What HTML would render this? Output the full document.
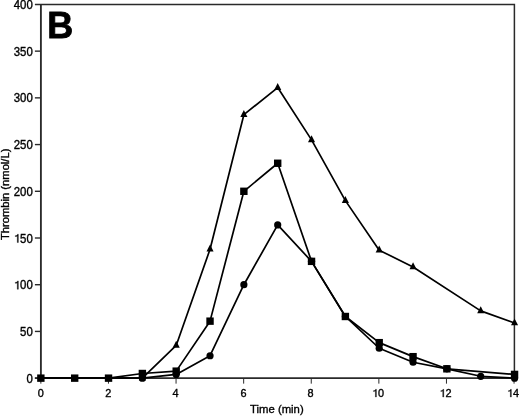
<!DOCTYPE html><html><head><meta charset="utf-8"><style>html,body{margin:0;padding:0;background:#fff;}svg{display:block;filter:grayscale(1);}text{font-family:"Liberation Sans",sans-serif;fill:#000;}.t text,text.t{stroke:#000;stroke-width:0.35px;}.g1{fill:#000;stroke:#000;stroke-width:62.9;}</style></head><body>
<svg width="520" height="416" viewBox="0 0 520 416">
<g stroke="#2a2a2a" stroke-width="1.7" fill="none">
<path d="M40.90,378.15 V4.43" stroke-width="1.85"/>
<path d="M34.90,4.43 H514.40 V378.15" stroke-width="1.5" stroke-linejoin="miter"/>
<path d="M34.90,378.15 H514.40"/>
<path d="M34.90,378.15 H40.90" stroke-width="1.4"/>
<path d="M34.90,331.43 H40.90" stroke-width="1.4"/>
<path d="M34.90,284.72 H40.90" stroke-width="1.4"/>
<path d="M34.90,238.00 H40.90" stroke-width="1.4"/>
<path d="M34.90,191.29 H40.90" stroke-width="1.4"/>
<path d="M34.90,144.57 H40.90" stroke-width="1.4"/>
<path d="M34.90,97.86 H40.90" stroke-width="1.4"/>
<path d="M34.90,51.14 H40.90" stroke-width="1.4"/>
<path d="M40.86,378.15 V383.65" stroke-width="1"/>
<path d="M108.46,378.15 V383.65" stroke-width="1"/>
<path d="M176.06,378.15 V383.65" stroke-width="1"/>
<path d="M243.66,378.15 V383.65" stroke-width="1"/>
<path d="M311.26,378.15 V383.65" stroke-width="1"/>
<path d="M378.86,378.15 V383.65" stroke-width="1"/>
<path d="M446.46,378.15 V383.65" stroke-width="1"/>
<path d="M514.06,378.15 V383.65" stroke-width="1"/>
</g>
<g class="t" font-size="11.4">
<g transform="translate(0,382.70) scale(1,1.04) translate(0,-382.70)">
<text x="26.41" y="382.70" font-size="11.4">0</text>
</g>
<g transform="translate(0,335.98) scale(1,1.04) translate(0,-335.98)">
<text x="20.07" y="335.98" font-size="11.4">5</text>
<text x="26.41" y="335.98" font-size="11.4">0</text>
</g>
<g transform="translate(0,289.27) scale(1,1.04) translate(0,-289.27)">
<path class="g1" transform="translate(13.73,289.27) scale(0.005566,-0.005566)" d="M643,0 L827,0 L827,1440 L676,1440 L649,1341 L594,1266 L492,1212 L274,1188 L274,1044 L471,1061 L573,1096 L643,1151 Z"/>
<text x="20.07" y="289.27" font-size="11.4">0</text>
<text x="26.41" y="289.27" font-size="11.4">0</text>
</g>
<g transform="translate(0,242.55) scale(1,1.04) translate(0,-242.55)">
<path class="g1" transform="translate(13.73,242.55) scale(0.005566,-0.005566)" d="M643,0 L827,0 L827,1440 L676,1440 L649,1341 L594,1266 L492,1212 L274,1188 L274,1044 L471,1061 L573,1096 L643,1151 Z"/>
<text x="20.07" y="242.55" font-size="11.4">5</text>
<text x="26.41" y="242.55" font-size="11.4">0</text>
</g>
<g transform="translate(0,195.84) scale(1,1.04) translate(0,-195.84)">
<text x="13.73" y="195.84" font-size="11.4">2</text>
<text x="20.07" y="195.84" font-size="11.4">0</text>
<text x="26.41" y="195.84" font-size="11.4">0</text>
</g>
<g transform="translate(0,149.12) scale(1,1.04) translate(0,-149.12)">
<text x="13.73" y="149.12" font-size="11.4">2</text>
<text x="20.07" y="149.12" font-size="11.4">5</text>
<text x="26.41" y="149.12" font-size="11.4">0</text>
</g>
<g transform="translate(0,102.41) scale(1,1.04) translate(0,-102.41)">
<text x="13.73" y="102.41" font-size="11.4">3</text>
<text x="20.07" y="102.41" font-size="11.4">0</text>
<text x="26.41" y="102.41" font-size="11.4">0</text>
</g>
<g transform="translate(0,55.69) scale(1,1.04) translate(0,-55.69)">
<text x="13.73" y="55.69" font-size="11.4">3</text>
<text x="20.07" y="55.69" font-size="11.4">5</text>
<text x="26.41" y="55.69" font-size="11.4">0</text>
</g>
<g transform="translate(0,8.98) scale(1,1.04) translate(0,-8.98)">
<text x="13.73" y="8.98" font-size="11.4">4</text>
<text x="20.07" y="8.98" font-size="11.4">0</text>
<text x="26.41" y="8.98" font-size="11.4">0</text>
</g>
<text x="37.77" y="397.00" font-size="10.9">0</text>
<text x="105.27" y="397.00" font-size="10.9">2</text>
<text x="172.52" y="397.00" font-size="10.9">4</text>
<text x="240.57" y="397.00" font-size="10.9">6</text>
<text x="307.47" y="397.00" font-size="10.9">8</text>
<path class="g1" transform="translate(371.99,397.00) scale(0.005322,-0.005322)" d="M643,0 L827,0 L827,1440 L676,1440 L649,1341 L594,1266 L492,1212 L274,1188 L274,1044 L471,1061 L573,1096 L643,1151 Z"/>
<text x="378.05" y="397.00" font-size="10.9">0</text>
<path class="g1" transform="translate(439.34,397.00) scale(0.005322,-0.005322)" d="M643,0 L827,0 L827,1440 L676,1440 L649,1341 L594,1266 L492,1212 L274,1188 L274,1044 L471,1061 L573,1096 L643,1151 Z"/>
<text x="445.40" y="397.00" font-size="10.9">2</text>
<path class="g1" transform="translate(506.94,397.00) scale(0.005322,-0.005322)" d="M643,0 L827,0 L827,1440 L676,1440 L649,1341 L594,1266 L492,1212 L274,1188 L274,1044 L471,1061 L573,1096 L643,1151 Z"/>
<text x="513.00" y="397.00" font-size="10.9">4</text>
</g>
<text class="t" x="276.9" y="413.2" font-size="11.3" text-anchor="middle">Time (min)</text>
<text class="t" transform="translate(9.1,194.3) rotate(-90)" font-size="11.2" text-anchor="middle">Thrombin (nmol/L)</text>
<text x="47.2" y="37.6" font-size="36" font-weight="bold" stroke="#000" stroke-width="0.8">B</text>
<g stroke="#000" stroke-width="1.7" fill="none" stroke-linejoin="round">
<polyline points="40.86,378.15 74.69,378.15 108.53,378.15 142.37,378.15 176.20,374.41 210.04,355.73 243.87,284.72 277.70,224.92 311.54,261.36 345.38,316.49 379.21,348.25 413.05,362.27 446.88,368.81 480.72,376.28 514.55,378.15"/>
<polyline points="40.86,378.15 74.69,378.15 108.53,378.15 142.37,373.48 176.20,371.14 210.04,321.16 243.87,191.29 277.70,163.26 311.54,261.36 345.38,316.49 379.21,342.65 413.05,356.66 446.88,368.81 514.55,374.41"/>
<polyline points="40.86,378.15 74.69,378.15 108.53,378.15 142.37,378.15 176.20,345.45 210.04,249.22 243.87,114.68 277.70,87.58 311.54,139.90 345.38,200.63 379.21,250.15 413.05,266.97 480.72,310.88 514.55,323.03"/>
</g>
<g fill="#000">
<circle cx="142.37" cy="378.15" r="3.6"/>
<circle cx="176.20" cy="374.41" r="3.6"/>
<circle cx="210.04" cy="355.73" r="3.6"/>
<circle cx="243.87" cy="284.72" r="3.6"/>
<circle cx="277.70" cy="224.92" r="3.6"/>
<circle cx="311.54" cy="261.36" r="3.6"/>
<circle cx="345.38" cy="316.49" r="3.6"/>
<circle cx="379.21" cy="348.25" r="3.6"/>
<circle cx="413.05" cy="362.27" r="3.6"/>
<circle cx="446.88" cy="368.81" r="3.6"/>
<circle cx="480.72" cy="376.28" r="3.6"/>
<circle cx="514.55" cy="378.15" r="3.6"/>
<rect x="37.16" y="374.45" width="7.4" height="7.4"/>
<rect x="70.99" y="374.45" width="7.4" height="7.4"/>
<rect x="104.83" y="374.45" width="7.4" height="7.4"/>
<rect x="138.67" y="369.78" width="7.4" height="7.4"/>
<rect x="172.50" y="367.44" width="7.4" height="7.4"/>
<rect x="206.34" y="317.46" width="7.4" height="7.4"/>
<rect x="240.17" y="187.59" width="7.4" height="7.4"/>
<rect x="274.00" y="159.56" width="7.4" height="7.4"/>
<rect x="307.84" y="257.66" width="7.4" height="7.4"/>
<rect x="341.68" y="312.79" width="7.4" height="7.4"/>
<rect x="375.51" y="338.95" width="7.4" height="7.4"/>
<rect x="409.35" y="352.96" width="7.4" height="7.4"/>
<rect x="443.18" y="365.11" width="7.4" height="7.4"/>
<rect x="510.85" y="370.71" width="7.4" height="7.4"/>
<path d="M142.37,373.55 L145.92,380.45 L138.81,380.45Z"/>
<path d="M176.20,340.85 L179.75,347.75 L172.65,347.75Z"/>
<path d="M210.04,244.62 L213.59,251.52 L206.49,251.52Z"/>
<path d="M243.87,110.08 L247.42,116.98 L240.32,116.98Z"/>
<path d="M277.70,82.98 L281.25,89.88 L274.15,89.88Z"/>
<path d="M311.54,135.30 L315.09,142.20 L307.99,142.20Z"/>
<path d="M345.38,196.03 L348.93,202.93 L341.82,202.93Z"/>
<path d="M379.21,245.55 L382.76,252.45 L375.66,252.45Z"/>
<path d="M413.05,262.37 L416.60,269.27 L409.50,269.27Z"/>
<path d="M480.72,306.28 L484.27,313.18 L477.17,313.18Z"/>
<path d="M514.55,318.43 L518.10,325.33 L511.00,325.33Z"/>
</g>
</svg></body></html>
